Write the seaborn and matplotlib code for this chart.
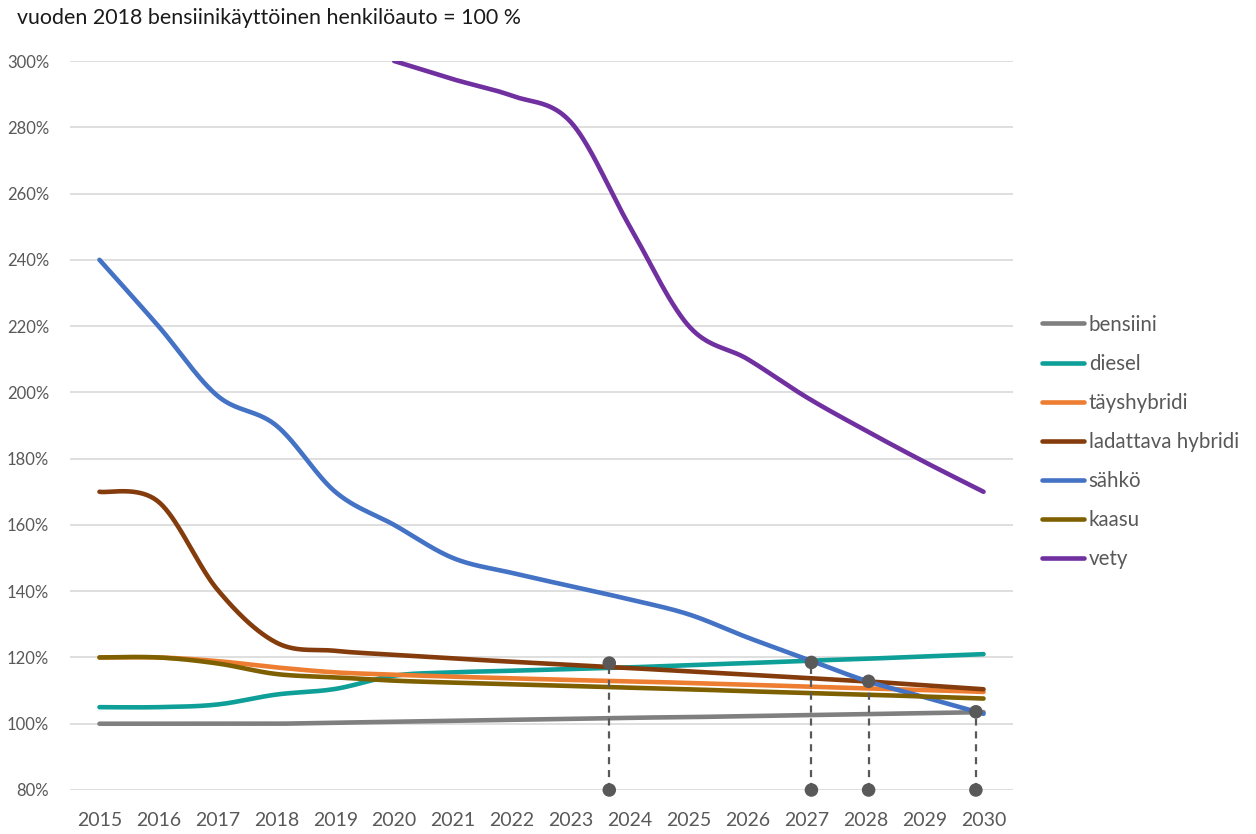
import numpy as np
import pandas as pd
import matplotlib
matplotlib.use("Agg")
import matplotlib.pyplot as plt
from matplotlib.lines import Line2D
import seaborn as sns

# Relative cost index, petrol car of 2018 = 100 %
years = list(range(2015, 2031))

bensiini = [100, 100, 100, 100, 100.3, 100.6, 100.9, 101.2, 101.5, 101.8,
            102.0, 102.3, 102.6, 102.9, 103.2, 103.5]
diesel = [105, 105, 105.8, 108.8, 110.5, 114.5, 115.5, 116, 116.5, 117,
          117.7, 118.3, 119, 119.6, 120.3, 121]
tayshybridi = [120, 120, 118.9, 117, 115.5, 114.8, 114.2, 113.7, 113.2, 112.8,
               112.3, 111.8, 111.2, 110.7, 110.2, 109.6]
ladattava_hybridi = [170, 167, 140.5, 124.5, 122, 120.8, 119.7, 118.7, 117.7, 116.8,
                     115.8, 114.8, 113.8, 112.8, 111.6, 110.4]
sahko = [240, 220, 199, 190, 170, 160, 150, 145.5, 141.5, 137.5,
         133, 126, 119.5, 113, 108, 103]
kaasu = [120, 120, 118.2, 115, 114, 113, 112.4, 111.9, 111.4, 110.9,
         110.4, 109.8, 109.3, 108.8, 108.2, 107.6]
vety = [np.nan, np.nan, np.nan, np.nan, np.nan, 300, 294.5, 289.5, 281.5, 250,
        220, 210, 198.5, 188.5, 179, 170]

series_names = ["bensiini", "diesel", "täyshybridi", "ladattava hybridi",
                "sähkö", "kaasu", "vety"]
series_values = [bensiini, diesel, tayshybridi, ladattava_hybridi, sahko, kaasu, vety]
colors = ["#7f7f7f", "#0e9f98", "#ed7d31", "#843c0c", "#4472c4", "#7f6000", "#7030a0"]

# Crossing points marked with dashed drop lines
cross_years = [2023.65, 2027.08, 2028.05, 2029.87]
cross_values = [118.3, 118.5, 112.8, 103.6]

y_ticks = list(range(80, 301, 20))


def smooth(xs, ys, n=40):
    """Cubic Bezier smoothing through every point (spreadsheet-style)."""
    xs = np.asarray(xs, float)
    ys = np.asarray(ys, float)
    px = np.concatenate([[xs[0]], xs, [xs[-1]]])
    py = np.concatenate([[ys[0]], ys, [ys[-1]]])
    t = np.linspace(0, 1, n)[:, None]
    out = []
    for i in range(len(xs) - 1):
        p0 = np.array([px[i], py[i]])
        p1 = np.array([px[i + 1], py[i + 1]])
        p2 = np.array([px[i + 2], py[i + 2]])
        p3 = np.array([px[i + 3], py[i + 3]])
        c1 = p1 + (p2 - p0) / 6
        c2 = p2 - (p3 - p1) / 6
        seg = ((1 - t) ** 3) * p1 + 3 * ((1 - t) ** 2) * t * c1 \
            + 3 * (1 - t) * t ** 2 * c2 + t ** 3 * p2
        out.append(seg if i == 0 else seg[1:])
    out = np.vstack(out)
    return out[:, 0], out[:, 1]


frames = []
for name, vals in zip(series_names, series_values):
    v = np.asarray(vals, float)
    ok = ~np.isnan(v)
    sx, sy = smooth(np.asarray(years)[ok], v[ok])
    frames.append(pd.DataFrame({"vuosi": sx, "arvo": sy, "polttoaine": name}))
df = pd.concat(frames, ignore_index=True)

sns.set_theme(style="white")
plt.rcParams["font.family"] = ["Lato", "DejaVu Sans"]

fig = plt.figure(figsize=(12.56, 8.34), dpi=100)
ax = fig.add_axes([70 / 1256, 1 - 790 / 834, (1013 - 70) / 1256, (790 - 61) / 834])

sns.lineplot(data=df, x="vuosi", y="arvo", hue="polttoaine",
             palette=dict(zip(series_names, colors)), hue_order=series_names,
             estimator=None, sort=False, linewidth=3.3, legend=False, ax=ax)

# Dashed drop lines with end dots
for cx, cy in zip(cross_years, cross_values):
    ax.plot([cx, cx], [80, cy], color="#595959", lw=1.6,
            linestyle=(0, (3.2, 2.6)), zorder=4, clip_on=False)
dots = pd.DataFrame({"x": cross_years + cross_years,
                     "y": cross_values + [80] * len(cross_years)})
sns.scatterplot(data=dots, x="x", y="y", color="#595959", s=95,
                edgecolor="none", zorder=5, clip_on=False, ax=ax)

ax.set_xlim(2014.5, 2030.5)
ax.set_ylim(80, 300)
ax.set_xticks(years)
ax.set_xticklabels([str(y) for y in years], fontsize=14, color="#595959")
ax.set_yticks(y_ticks)
ax.set_yticklabels([f"{v}%" for v in y_ticks], fontsize=12, color="#595959")
ax.tick_params(axis="both", length=0)
ax.tick_params(axis="x", pad=16)
ax.tick_params(axis="y", pad=15)
ax.grid(axis="y", color="#d9d9d9", linewidth=1.2)
ax.grid(axis="x", visible=False)
ax.set_axisbelow(True)
for s in ax.spines.values():
    s.set_visible(False)
ax.set_xlabel("")
ax.set_ylabel("")

handles = [Line2D([0], [0], color=c, lw=3.3) for c in colors]
leg = fig.legend(handles, series_names, loc="center left",
                 bbox_to_anchor=(1042 / 1256, 1 - 442 / 834),
                 frameon=False, fontsize=14.8, handlelength=2.05,
                 handletextpad=0.22, labelspacing=0.93, borderpad=0,
                 borderaxespad=0)
for t in leg.get_texts():
    t.set_color("#595959")

fig.text(17 / 1256, 1 - 18 / 834, "vuoden 2018 bensiinikäyttöinen henkilöauto = 100 %",
         fontsize=15.4, color="#1a1a1a", ha="left", va="center")

fig.savefig("out.png", dpi=100)
